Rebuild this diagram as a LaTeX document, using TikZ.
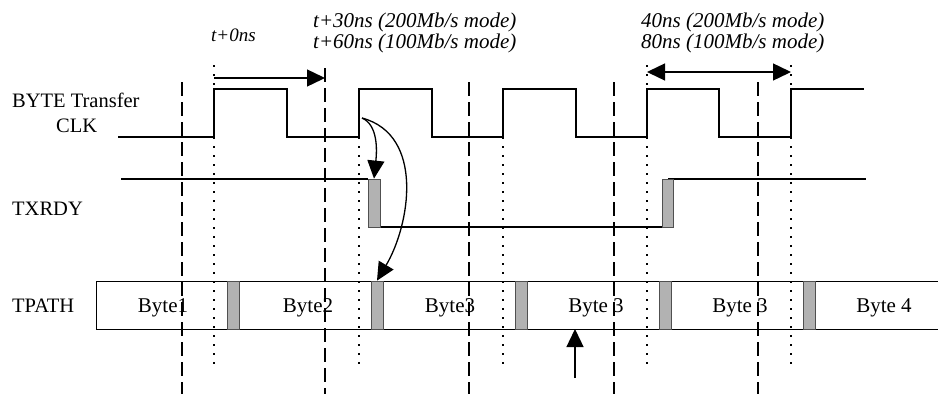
\documentclass[tikz,border=0pt]{standalone}
\usepackage{fontspec}
\setmainfont{Liberation Serif}
\usetikzlibrary{arrows.meta}
\definecolor{boxgray}{RGB}{178,178,178}
\definecolor{edgegray}{RGB}{80,80,80}
\begin{document}
\begin{tikzpicture}[x=1pt,y=-1pt,
  sig/.style={line width=1.4pt},
  dashv/.style={line width=1.2pt, dash pattern=on 14pt off 6pt},
  dotv/.style={line width=1.6pt, dash pattern=on 1.6pt off 7.4pt},
  graybox/.style={draw=edgegray, fill=boxgray, line width=0.8pt, inner sep=0pt,
    minimum width=12pt, minimum height=48pt},
  lbl/.style={font=\fontsize{20.5}{22}\selectfont, inner sep=0pt, anchor=base west},
  ital/.style={font=\fontsize{21}{18}\selectfont\itshape, inner sep=0pt, anchor=base west,
    align=left},
  bytelbl/.style={font=\fontsize{21}{22}\selectfont, inner sep=0pt, anchor=base},
  bigtip/.style={-{Triangle[length=18pt,width=17pt]}},
  bigtips/.style={{Triangle[length=18pt,width=17pt]}-{Triangle[length=18pt,width=17pt]}}
]
\useasboundingbox (0,0) rectangle (938,394);

% ---------- labels ----------
\node[lbl] (lbyte) at (12,107) {BYTE Transfer};
\node[lbl] (lclk) at (56,132) {CLK};
\node[lbl] (ltx) at (12,215) {TXRDY};
\node[lbl] (ltp) at (12,312) {TPATH};
\node[ital, font=\fontsize{19}{18}\selectfont\itshape] (t0) at (211,41) {t+0ns};
\node[ital] (t30) at (313,48) {t+30ns (200Mb/s mode)\\t+60ns (100Mb/s mode)};
\node[ital] (d40) at (641,48) {40ns (200Mb/s mode)\\80ns (100Mb/s mode)};

\node[bytelbl] (b1) at (163,312) {Byte1};
\node[bytelbl] (b2) at (308,312) {Byte2};
\node[bytelbl] (b3) at (450,312) {Byte3};
\node[bytelbl] (b4) at (596,312) {Byte 3};
\node[bytelbl] (b5) at (740,312) {Byte 3};
\node[bytelbl] (b6) at (884,312) {Byte 4};

% ---------- vertical reference lines ----------
\foreach \x/\yt in {182/82, 325/68, 469/82, 614/82, 758/82}
  \draw[dashv] (\x,\yt) -- (\x,394);
\foreach \x/\yt in {214/65, 359/137, 503/137, 647/65, 791/65}
  \draw[dotv] (\x,\yt) -- (\x,368);

% ---------- clock ----------
\draw[sig] (118,137) -- (214,137) -- (214,89) -- (287,89) -- (287,137)
  -- (359,137) -- (359,89) -- (432,89) -- (432,137)
  -- (503,137) -- (503,89) -- (576,89) -- (576,137)
  -- (647,137) -- (647,89) -- (719,89) -- (719,137)
  -- (791,137) -- (791,89) -- (864,89);
\coordinate (clkedge) at (362,118);

% ---------- TXRDY ----------
\draw[sig] (121,179) -- (368,179);
\draw[sig] (368,227) -- (668,227);
\draw[sig] (668,179) -- (866,179);
\node[graybox] (tx1) at (374,203) {};
\node[graybox, minimum width=11pt] (tx2) at (667.5,203) {};

% ---------- TPATH ----------
\draw[line width=1pt] (940,281) -- (96,281) -- (96,329) -- (940,329);
\node[graybox] (g1) at (233,305) {};
\node[graybox] (g2) at (377,305) {};
\node[graybox] (g3) at (521,305) {};
\node[graybox] (g4) at (665,305) {};
\node[graybox] (g5) at (809,305) {};

% ---------- arrows ----------
\coordinate (a0) at (214,78);
\coordinate (a1) at (325,78);
\draw[sig, bigtip] (a0) -- (a1);
\coordinate (p0) at (647,72);
\coordinate (p1) at (791,72);
\draw[sig, bigtips] (p0) -- (p1);

\draw[line width=1.3pt, bigtip] (clkedge) .. controls (378,125) and (377,150) .. (tx1.north);
\draw[line width=1.3pt, bigtip] (clkedge) .. controls (425,135) and (410,225) .. (g2.north);

\coordinate (up0) at (575,378);
\coordinate (up1) at (575,329);
\draw[line width=1.3pt, bigtip] (up0) -- (up1);
\end{tikzpicture}
\end{document}
